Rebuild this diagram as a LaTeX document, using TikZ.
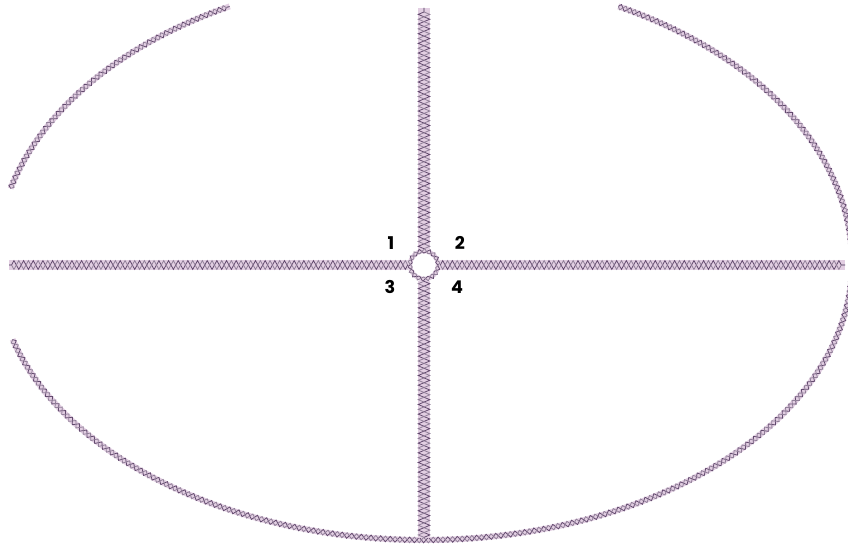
\documentclass[tikz,border=0pt]{standalone}
\usepackage{fontspec}
\usepackage{tikz}
\usetikzlibrary{decorations.pathmorphing}
\newfontfamily\numfont{Poppins}
\definecolor{ropelight}{RGB}{226,206,226}
\definecolor{ropedark}{RGB}{98,74,110}

\begin{document}
\begin{tikzpicture}[x=0.02cm, y=-0.02cm,
    rope/.style 2 args={draw=ropelight, line width=#1,
        postaction={decorate, draw=ropedark, line width=0.45pt,
            decoration={zigzag, segment length=5.5pt, amplitude=#2}},
        postaction={decorate, draw=ropedark!70, line width=0.45pt,
            decoration={zigzag, segment length=5.5pt, amplitude=#2, mirror}}},
    num/.style={font=\numfont\bfseries\fontsize{10}{12}\selectfont, inner sep=0pt}]
    \useasboundingbox (0,0) rectangle (848,544);
    \clip (0,0) rectangle (848,544);

    % Centre of the outline
    \coordinate (mid) at (424,263);

    % The outer loop (cut at top and left)
    \draw[rope={3.4pt}{1.6pt}] ([shift={(195:428 and 288)}]mid)
        arc[start angle=195, end angle=243, x radius=428, y radius=288];
    \draw[rope={3.4pt}{1.6pt}] ([shift={(297:428 and 288)}]mid)
        arc[start angle=297, end angle=360, x radius=428, y radius=288]
        arc[start angle=0, end angle=164, x radius=428, y radius=277];

    % Ends of the cross
    \coordinate (top) at (424,8);
    \coordinate (bot) at (424,538);
    \coordinate (lft) at (9,265);
    \coordinate (rgt) at (845,265);

    % The knot in the middle
    \node[circle, minimum size=0.56cm, inner sep=0pt, rope={2.6pt}{1.3pt}] (knot) at (424,265) {};

    % The cross
    \draw[rope={7pt}{3.3pt}] (knot) -- (top);
    \draw[rope={7pt}{3.3pt}] (knot) -- (bot);
    \draw[rope={5.4pt}{2.5pt}] (knot) -- (lft);
    \draw[rope={5.4pt}{2.5pt}] (knot) -- (rgt);

    % Quarter numbers
    \node[num] (q1) at (391,243) {1};
    \node[num] (q2) at (460,243) {2};
    \node[num] (q3) at (390,287) {3};
    \node[num] (q4) at (457,287) {4};

\end{tikzpicture}
\end{document}
